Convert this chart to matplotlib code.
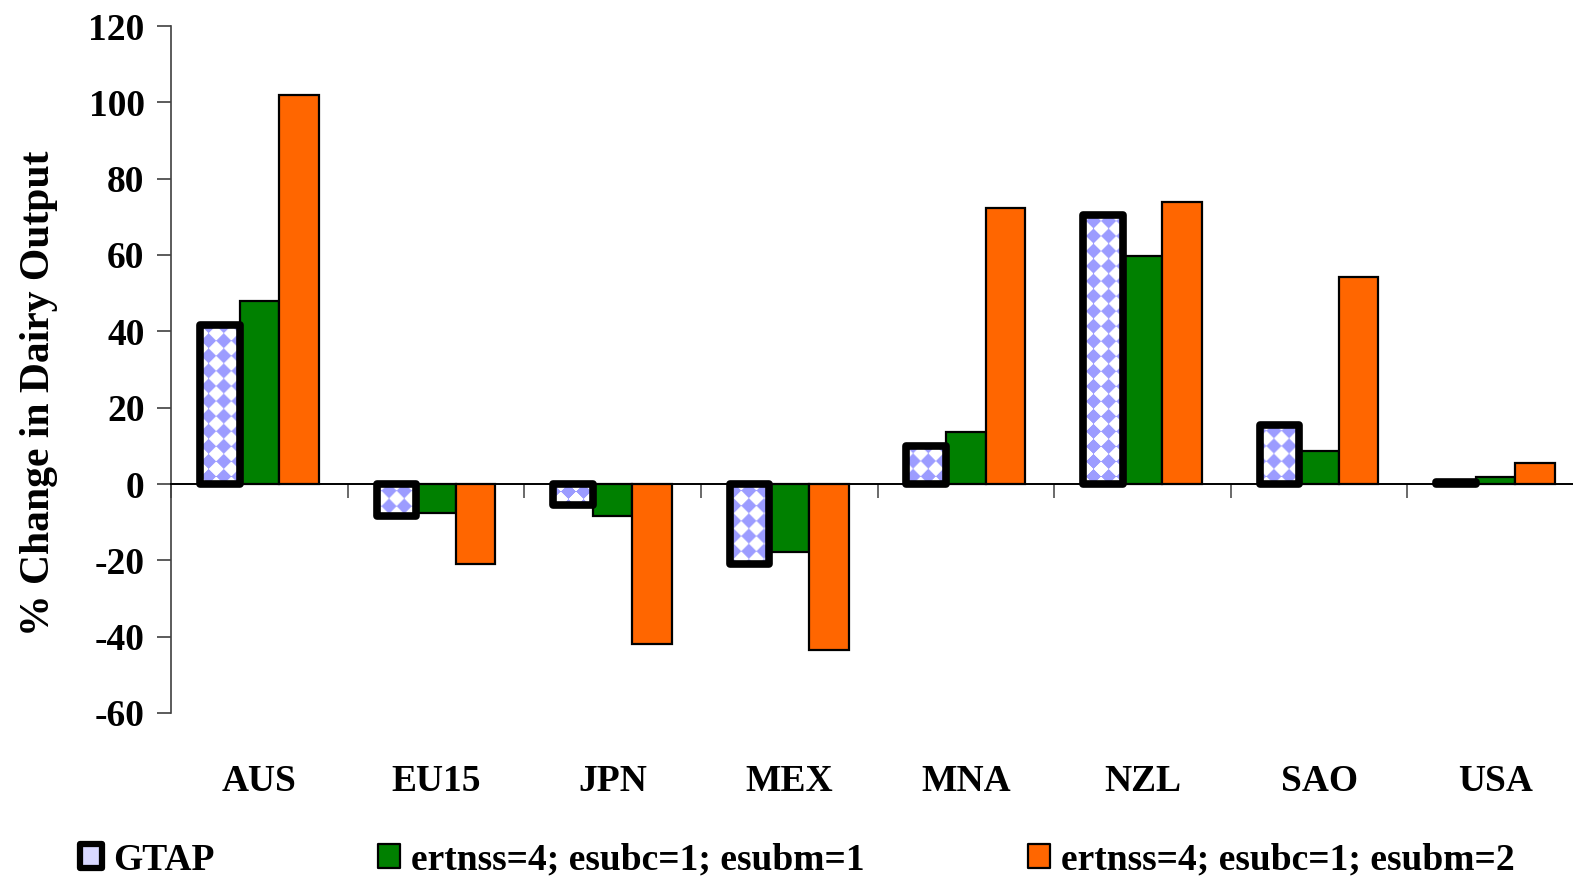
import numpy as np
import matplotlib.pyplot as plt
from matplotlib.patches import Rectangle

# data (% change in dairy output)
regions = ["AUS", "EU15", "JPN", "MEX", "MNA", "NZL", "SAO", "USA"]
gtap = [41.7, -8.4, -5.5, -21.0, 10.0, 70.6, 15.5, 0.5]
esubm1 = [48.0, -7.6, -8.4, -17.8, 13.6, 59.8, 8.7, 1.9]
esubm2 = [102.0, -21.0, -42.0, -43.5, 72.4, 74.0, 54.3, 5.5]
series_labels = ["GTAP", "ertnss=4; esubc=1; esubm=1", "ertnss=4; esubc=1; esubm=2"]
yticks = list(range(-60, 121, 20))

GREEN = "#008000"
ORANGE = "#ff6600"
PATTERN_BLUE = "#9c9cff"
FONT = "Liberation Serif"

plt.rcParams["font.family"] = [FONT, "DejaVu Serif"]
plt.rcParams["font.weight"] = "bold"

W, H = 1573, 882
fig = plt.figure(figsize=(W / 100, H / 100), dpi=100)

# axes span in pixels (right end runs past the image edge like the original)
ax_left, ax_right, ax_top, ax_bottom = 171, 1584, 26, 713
ax = fig.add_axes([ax_left / W, 1 - ax_bottom / H,
                   (ax_right - ax_left) / W, (ax_bottom - ax_top) / H])

x = np.arange(len(regions)) + 0.5
w = 0.224

ax.bar(x, esubm1, w, color=GREEN, edgecolor="black", linewidth=1.6, zorder=3)
ax.bar(x + w, esubm2, w, color=ORANGE, edgecolor="black", linewidth=1.6, zorder=3)

# GTAP bars: white with a blue diamond pattern and a heavy black outline
ax.set_xlim(0, len(regions))
ax.set_ylim(-60, 120)
pw, ph = ax_right - ax_left, ax_bottom - ax_top
px, py = np.meshgrid(np.arange(pw), np.arange(ph))
s = 15.0
u = np.floor((px + py) / s)
v = np.floor((px - py) / s)
blue = ((u + v) % 2 == 0)
rgb = np.array(plt.matplotlib.colors.to_rgb(PATTERN_BLUE))
img = np.ones((ph, pw, 3))
img[blue] = rgb

fills = ax.bar(x - w, gtap, w, color="white", edgecolor="none", zorder=4)
for b in fills:
    im = ax.imshow(img, extent=[0, len(regions), -60, 120], aspect="auto",
                   zorder=4.5, interpolation="bilinear")
    im.set_clip_path(b)
outlines = ax.bar(x - w, gtap, w, facecolor="none", edgecolor="black",
                  linewidth=5.5, zorder=5)
for b in outlines:
    b.set_joinstyle("round")
ax.set_xlim(0, len(regions))
ax.set_ylim(-60, 120)

# axes styling
for side in ["top", "right"]:
    ax.spines[side].set_visible(False)
ax.spines["left"].set_color("#404040")
ax.spines["left"].set_linewidth(1.2)
ax.spines["bottom"].set_position(("data", 0))
ax.spines["bottom"].set_color("black")
ax.spines["bottom"].set_linewidth(1.4)
ax.spines["bottom"].set_zorder(6)

ax.set_yticks(yticks)
ax.set_yticklabels([str(t) for t in yticks], fontsize=27, fontweight="bold")
ax.tick_params(axis="y", direction="out", length=10, width=1.2,
               color="#404040", pad=9)

ax.set_xticks(np.arange(len(regions) + 1))
ax.tick_params(axis="x", direction="out", length=10, width=1.2,
               color="#505050", labelbottom=False)

sec = ax.secondary_xaxis(0)
sec.set_xticks(x)
sec.set_xticklabels(regions, fontsize=27, fontweight="bold")
sec.tick_params(length=0, pad=37)
sec.spines["bottom"].set_visible(False)

ax.set_ylabel("% Change in Dairy Output", fontsize=30, fontweight="bold")
ax.yaxis.set_label_coords(-0.080, 0.466)

# legend along the bottom
leg_y = 856
handles = [(80, "white", 4.5), (378, GREEN, 1.6), (1028, ORANGE, 1.6)]
for (hx, col, lw), lab in zip(handles, series_labels):
    r = Rectangle((hx / W, 1 - (leg_y + 12) / H), 22 / W, 24 / H,
                  transform=fig.transFigure, facecolor=col,
                  edgecolor="black", linewidth=lw, joinstyle="round")
    if col == "white":
        r.set_facecolor("#d8d8ff")
    fig.patches.append(r)
    fig.text((hx + 33) / W, 1 - (leg_y + 4) / H, lab, fontsize=27,
             fontweight="bold", va="center", ha="left")

fig.savefig("out.png", dpi=100)
plt.close()
